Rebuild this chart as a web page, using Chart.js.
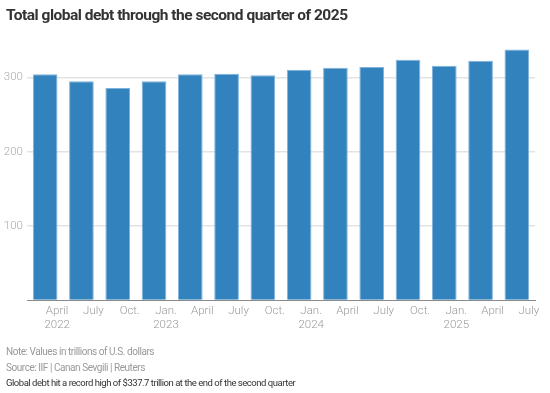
<!DOCTYPE html>
<html><head><meta charset="utf-8">
<script src="https://cdn.jsdelivr.net/npm/chart.js@4.4.1/dist/chart.umd.min.js"></script>
<style>
html,body{margin:0;padding:0;background:#fff;}
#wrap{position:relative;width:550px;height:393px;overflow:hidden;font-family:Roboto,sans-serif;}
#title{position:absolute;left:6px;top:6px;font-family:Roboto,sans-serif;font-weight:700;font-size:15.5px;color:#333;letter-spacing:-0.5px;white-space:nowrap;}
.foot{position:absolute;left:6px;font-size:10px;color:#999;white-space:nowrap;letter-spacing:-0.45px;}
#cv{position:absolute;left:0;top:0;}
</style></head><body>
<div id="wrap">
<canvas id="cv" width="550" height="393"></canvas>
<div id="title">Total global debt through the second quarter of 2025</div>
<div class="foot" style="top:346px">Note: Values in trillions of U.S. dollars</div>
<div class="foot" style="top:362px">Source: IIF | Canan Sevgili | Reuters</div>
<div class="foot" style="top:377px;color:#333;font-size:9.5px;letter-spacing:-0.47px">Global debt hit a record high of $337.7 trillion at the end of the second quarter</div>
</div>
<script>
const categories = [["April","2022"],"July","Oct.",["Jan.","2023"],"April","July","Oct.",["Jan.","2024"],"April","July","Oct.",["Jan.","2025"],"April","July"];
const debtValues = [304.5, 295, 286, 295, 304.5, 305, 303, 310.5, 313, 314, 324, 316, 322.5, 337.7];
const yTicks = [100, 200, 300];

new Chart(document.getElementById('cv'), {
  type: 'bar',
  data: { labels: categories, datasets: [{ data: debtValues, backgroundColor: '#3182bd', borderColor: '#7fb2dc', borderWidth: 1, barPercentage: 0.68, categoryPercentage: 1.0 }] },
  options: {
    responsive: false, animation: false,
    layout: { padding: { left: 0, right: 15, top: 47.8, bottom: 52.5 } },
    plugins: { legend: { display: false }, tooltip: { enabled: false } },
    scales: {
      x: {
        grid: { display: false, drawTicks: false },
        border: { display: true, color: '#8a8a8a', width: 1 },
        ticks: { color: '#9a9a9a', font: { family: 'Roboto', size: 11.5, weight: 300 }, labelOffset: 12, padding: 4, maxRotation: 0, autoSkip: false },
        afterFit: s => { s.height = 40; }
      },
      y: {
        min: 0, max: 340,
        grid: { drawTicks: false, color: c => (c.tick && yTicks.includes(c.tick.value)) ? '#e3e3e3' : 'rgba(0,0,0,0)', lineWidth: 1.5 },
        border: { display: false },
        ticks: { stepSize: 100, includeBounds: false, padding: 4, color: '#aaa', font: { family: 'Roboto', size: 11.5, weight: 300 }, callback: v => yTicks.includes(v) ? String(v) : '' },
        afterFit: s => { s.width = 27; }
      }
    }
  }
});
</script>
</body></html>
